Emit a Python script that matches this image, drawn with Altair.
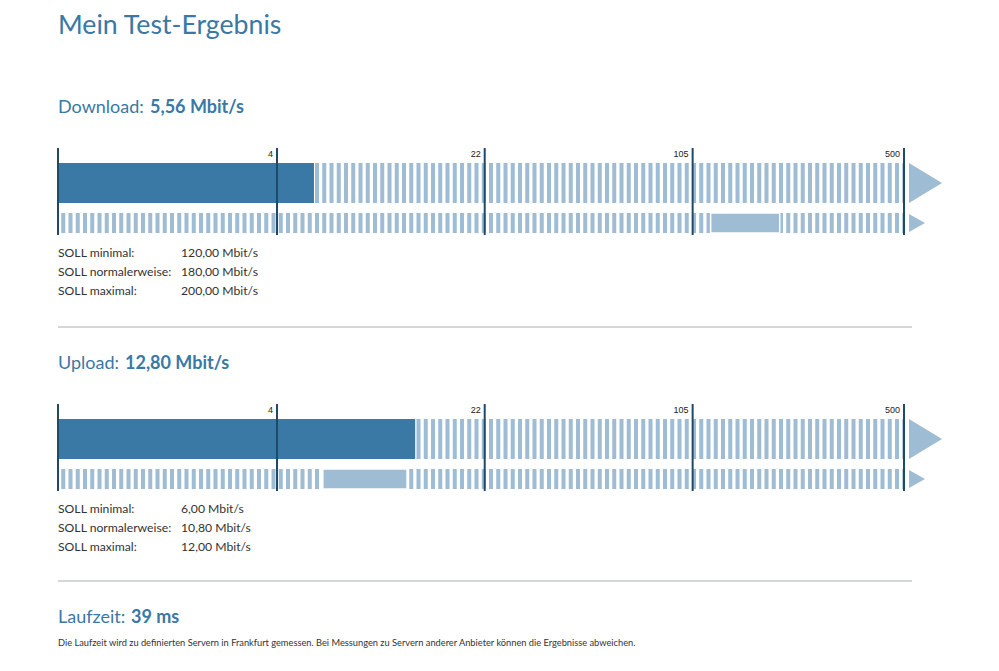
import altair as alt
import pandas as pd

# ---------------- data ----------------
page_title = "Mein Test-Ergebnis"
sections = ["Download", "Upload"]
measured = [5.56, 12.80]
unit = "Mbit/s"
soll_names = ["SOLL minimal:", "SOLL normalerweise:", "SOLL maximal:"]
soll_min = [120.00, 6.00]
soll_normal = [180.00, 10.80]
soll_max = [200.00, 12.00]
scale_ticks = [0, 4, 22, 105, 500]
scale_tick_labels = ["", "4", "22", "105", "500"]
latency_label = "Laufzeit:"
latency_ms = 39
note_text = ("Die Laufzeit wird zu definierten Servern in Frankfurt gemessen. "
             "Bei Messungen zu Servern anderer Anbieter können die Ergebnisse abweichen.")

# ---------------- style ----------------
FONT = "Lato"
BLUE = "#3a78a5"
LIGHT = "#9ebcd3"
NAVY = "#1e4a6a"
TEXT = "#333333"
SEP = "#a9aeb3"
SECTION_OFFSET = 256
HEAD_X_BOLD = [142, 117]
TOP = 8  # chart padding at top; all y values below are page-y minus 8 minus TOP


def de(v):
    s = f"{v:,.2f}"
    return s.replace(",", "X").replace(".", ",").replace("X", ".")


xs = alt.Scale(type="symlog", constant=1, domain=[0, 500], range=[50, 896])


def Y(v):
    return alt.value(v - TOP)


def txt(text, x, y, size, color=TEXT, weight="normal", align="left"):
    return alt.Chart(pd.DataFrame({"t": [text]})).mark_text(
        align=align, baseline="alphabetic", font=FONT, fontSize=size,
        fontWeight=weight, color=color, lineBreak="\n", lineHeight=19,
    ).encode(x=alt.value(x), y=Y(y), text="t:N")


layers = [txt(page_title, 50, 26, 26.7, BLUE)]

for i, name in enumerate(sections):
    off = i * SECTION_OFFSET
    row = pd.DataFrame({
        "lo": [0.0], "hi": [500.0], "meas": [measured[i]],
        "smin": [soll_min[i]], "snorm": [soll_normal[i]], "smax": [soll_max[i]],
    })
    ticks = pd.DataFrame({"t": scale_ticks, "lab": scale_tick_labels})

    # heading
    layers.append(txt(name + ":", 50, 105 + off, 18, BLUE))
    layers.append(txt(f"{de(measured[i])} {unit}", HEAD_X_BOLD[i], 105 + off, 18, BLUE, "bold"))

    # striped background rows
    for yc, h in [(175, 40), (215, 20)]:
        layers.append(alt.Chart(row).mark_rule(
            color=LIGHT, strokeWidth=h, strokeDash=[4, 3.25], strokeDashOffset=4, strokeCap="butt"
        ).encode(x=alt.X("lo:Q", scale=xs, axis=None), x2="hi:Q", y=Y(yc + off)))

    # measured bar
    layers.append(alt.Chart(row).mark_rect(color=BLUE).encode(
        x=alt.X("lo:Q", scale=xs, axis=None), x2="meas:Q",
        y=Y(155 + off), y2=Y(195 + off)))

    # SOLL range bar
    layers.append(alt.Chart(row).mark_rect(color=LIGHT, stroke="white", strokeWidth=1.5).encode(
        x=alt.X("smin:Q", scale=xs, axis=None), x2="smax:Q",
        y=Y(205 + off), y2=Y(225 + off)))

    # arrows
    layers.append(alt.Chart(row).mark_point(
        shape="M0.25,-1L1.9,0L0.25,1Z", size=1600, filled=True, color=LIGHT, opacity=1, strokeWidth=0
    ).encode(x=alt.X("hi:Q", scale=xs, axis=None), y=Y(175 + off)))
    layers.append(alt.Chart(row).mark_point(
        shape="M0.56,-1L2.33,0L0.56,1Z", size=324, filled=True, color=LIGHT, opacity=1, strokeWidth=0
    ).encode(x=alt.X("hi:Q", scale=xs, axis=None), y=Y(215 + off)))

    # tick lines + labels
    layers.append(alt.Chart(ticks).mark_rule(color=NAVY, strokeWidth=2).encode(
        x=alt.X("t:Q", scale=xs, axis=None), y=Y(140 + off), y2=Y(227 + off)))
    layers.append(alt.Chart(ticks).mark_text(
        align="right", baseline="alphabetic", dx=-4, fontSize=9, font="Liberation Sans", color="#222222"
    ).encode(x=alt.X("t:Q", scale=xs, axis=None), y=Y(149 + off), text="lab:N"))

    # SOLL table
    layers.append(txt("\n".join(soll_names), 50, 249 + off, 12.2))
    vals = [soll_min[i], soll_normal[i], soll_max[i]]
    layers.append(txt("\n".join(f"{de(v)} {unit}" for v in vals), 173, 249 + off, 12.2))

    # separator
    layers.append(alt.Chart(row).mark_rule(color=SEP, strokeWidth=1).encode(
        x=alt.value(50), x2=alt.value(904), y=Y(319 + off - (2 if i else 0))))

layers.append(txt(latency_label, 50, 615, 18, BLUE))
layers.append(txt(f"{latency_ms} ms", 123, 615, 18, BLUE, "bold"))
layers.append(txt(note_text, 50, 638, 9.27))

chart = alt.layer(*layers).properties(
    width=983, height=650 - TOP,
    padding={"left": 0, "top": TOP, "right": 0, "bottom": 0},
    autosize="none",
).configure_view(stroke=None)

chart.save("out.html", embed_options={"renderer": "svg", "actions": False})
